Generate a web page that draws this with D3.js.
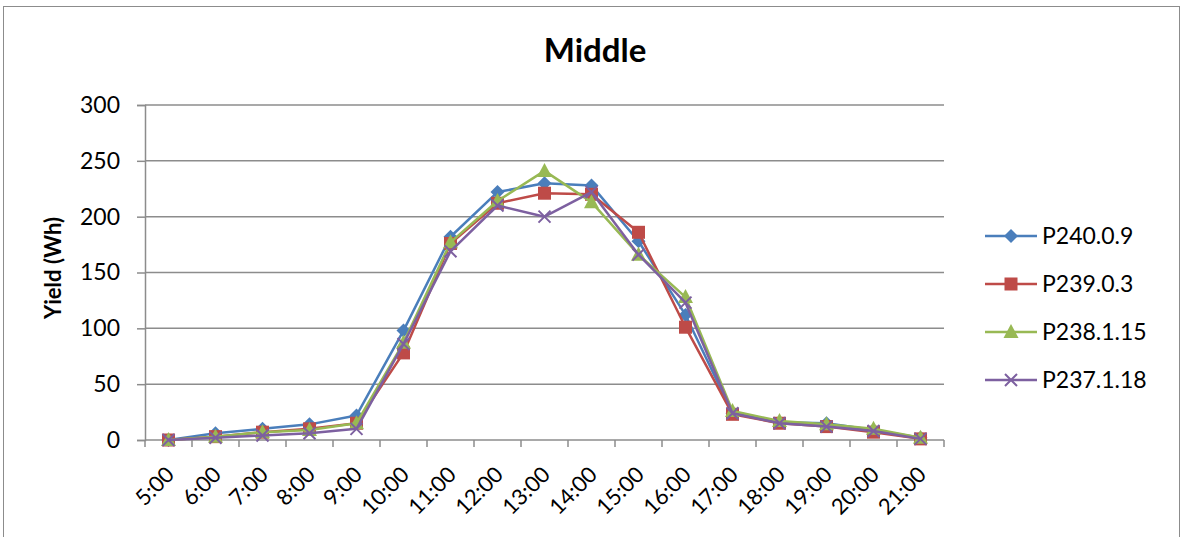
<!DOCTYPE html>
<html>
<head>
<meta charset="utf-8">
<script src="https://cdn.jsdelivr.net/npm/d3@7/dist/d3.min.js"></script>
<style>
  html, body { margin: 0; padding: 0; background: #fff; }
  svg { display: block; font-family: Lato, "Open Sans", "Liberation Sans", sans-serif; }
</style>
</head>
<body>
<svg id="chart" width="1184" height="537"></svg>
<script>
// Hourly yield per panel, "Middle" position
const hours = ["5:00","6:00","7:00","8:00","9:00","10:00","11:00","12:00","13:00","14:00","15:00","16:00","17:00","18:00","19:00","20:00","21:00"];
const seriesNames = ["P240.0.9", "P239.0.3", "P238.1.15", "P237.1.18"];
const p240 = [0, 6, 10, 14, 22, 98, 182, 222, 230, 228, 178, 112, 24, 16, 15, 9, 2];
const p239 = [0, 3, 7, 10, 15, 78, 176, 212, 221, 220, 186, 101, 23, 15, 12, 7, 1];
const p238 = [0, 3, 7, 9, 15, 87, 177, 214, 241, 213, 166, 128, 26, 17, 14, 10, 2];
const p237 = [0, 2, 4, 6, 10, 86, 169, 210, 200, 222, 166, 123, 24, 15, 12, 8, 1];
const yTicks = [0, 50, 100, 150, 200, 250, 300];

const colors = ["#4a7ebb", "#be4b48", "#98b954", "#7d60a0"];
const markerTypes = ["diamond", "square", "triangle", "cross"];
const seriesValues = [p240, p239, p238, p237];

const svg = d3.select("#chart");

// chart frame
svg.append("rect")
  .attr("x", 3.5).attr("y", 6.5).attr("width", 1176).attr("height", 540)
  .attr("fill", "#fff").attr("stroke", "#8c8c8c").attr("stroke-width", 1);

const plot = { left: 145, right: 944, top: 105, bottom: 440 };

const x = d3.scaleBand().domain(hours).range([plot.left, plot.right]).padding(0);
const y = d3.scaleLinear().domain([0, 300]).range([plot.bottom, plot.top]);
const cx = h => x(h) + x.bandwidth() / 2;

// horizontal gridlines
svg.append("g").selectAll("line").data(yTicks.filter(d => d > 0)).join("line")
  .attr("x1", plot.left).attr("x2", plot.right)
  .attr("y1", d => y(d)).attr("y2", d => y(d))
  .attr("stroke", "#8c8c8c").attr("stroke-width", 1.5);

// y axis
const yAxis = d3.axisLeft(y).tickValues(yTicks).tickSize(8).tickPadding(17).tickFormat(d3.format("d"));
const gy = svg.append("g").attr("transform", `translate(${plot.left},0)`).call(yAxis);
gy.select(".domain").attr("stroke", "#8c8c8c").attr("stroke-width", 1.5);
gy.selectAll(".tick line").attr("stroke", "#8c8c8c").attr("stroke-width", 1.5);
gy.selectAll(".tick text").attr("font-size", 23).attr("fill", "#000")
  .attr("font-family", "Lato, 'Open Sans', sans-serif");

// x axis: ticks sit on category boundaries
const gx = svg.append("g").attr("transform", `translate(0,${plot.bottom})`);
gx.append("line").attr("x1", plot.left).attr("x2", plot.right)
  .attr("y1", 0).attr("y2", 0).attr("stroke", "#8c8c8c").attr("stroke-width", 1.5);
const boundaries = hours.map(h => x(h)).concat([x(hours[hours.length - 1]) + x.bandwidth()]);
gx.selectAll("line.tk").data(boundaries).join("line").attr("class", "tk")
  .attr("x1", d => d).attr("x2", d => d).attr("y1", 0).attr("y2", 7)
  .attr("stroke", "#8c8c8c").attr("stroke-width", 1.5);
gx.selectAll("text").data(hours).join("text")
  .attr("transform", d => `translate(${cx(d) + 7},36) rotate(-45)`)
  .attr("text-anchor", "end")
  .attr("font-size", 22).attr("fill", "#000")
  .text(d => d);

// title and axis title
svg.append("text").attr("x", 595).attr("y", 62).attr("text-anchor", "middle")
  .attr("font-size", 33).attr("font-weight", "bold").attr("fill", "#000").text("Middle");
svg.append("text").attr("transform", `translate(61,268) rotate(-90)`)
  .attr("text-anchor", "middle").attr("font-size", 22).attr("font-weight", "bold")
  .attr("fill", "#000").text("Yield (Wh)");

// marker shapes
function drawMarker(g, type, color, mx, my) {
  if (type === "diamond") {
    g.append("path").attr("d", `M${mx},${my - 7}L${mx + 7},${my}L${mx},${my + 7}L${mx - 7},${my}Z`)
      .attr("fill", color);
  } else if (type === "square") {
    g.append("rect").attr("x", mx - 6.5).attr("y", my - 6.5).attr("width", 13).attr("height", 13)
      .attr("fill", color);
  } else if (type === "triangle") {
    g.append("path").attr("d", `M${mx},${my - 8}L${mx + 7.5},${my + 6}L${mx - 7.5},${my + 6}Z`)
      .attr("fill", color);
  } else {
    g.append("path").attr("d", `M${mx - 6},${my - 6}L${mx + 6},${my + 6}M${mx - 6},${my + 6}L${mx + 6},${my - 6}`)
      .attr("stroke", color).attr("stroke-width", 2).attr("fill", "none");
  }
}

const line = d3.line().x((d, i) => cx(hours[i])).y(d => y(d));

seriesValues.forEach((vals, si) => {
  const g = svg.append("g");
  g.append("path").datum(vals).attr("d", line)
    .attr("fill", "none").attr("stroke", colors[si]).attr("stroke-width", 2.5)
    .attr("stroke-linejoin", "round");
  vals.forEach((v, i) => drawMarker(g, markerTypes[si], colors[si], cx(hours[i]), y(v)));
});

// legend
const legendY = d3.scalePoint().domain(seriesNames).range([236, 380]);
seriesNames.forEach((name, si) => {
  const g = svg.append("g");
  const ly = legendY(name);
  g.append("line").attr("x1", 985).attr("x2", 1037).attr("y1", ly).attr("y2", ly)
    .attr("stroke", colors[si]).attr("stroke-width", 2.5);
  drawMarker(g, markerTypes[si], colors[si], 1011, ly);
  g.append("text").attr("x", 1042).attr("y", ly).attr("dy", "0.36em")
    .attr("font-size", 23).attr("fill", "#000").text(name);
});
</script>
</body>
</html>
